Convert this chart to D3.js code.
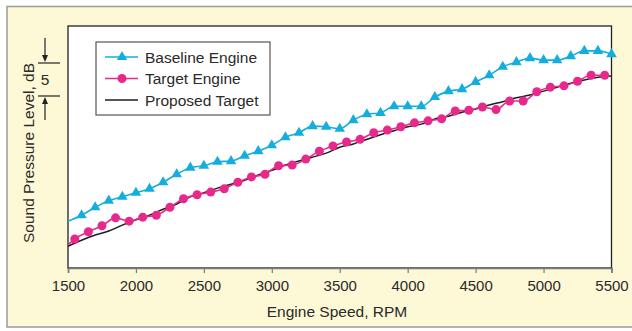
<!DOCTYPE html>
<head>
<meta charset="utf-8">
<style>
    body { margin: 0; background: #fff; }
    text { font-family: "Liberation Sans", Arial, sans-serif; fill: #2a2a2a; }
</style>
</head>
<body>
    <script src="https://d3js.org/d3.v7.min.js"></script>
    <script>

    ///////////////////////////
    ////////// DATA ///////////
    ///////////////////////////

    // relative sound pressure level, dB
    const baselineRpm = d3.range(1500, 5501, 100);
    const baselineDb = [7.1, 8.0, 9.2, 10.2, 10.8, 11.4, 12.0, 13.0, 14.2, 15.2,
        15.5, 16.1, 16.2, 17.0, 17.7, 18.6, 19.8, 20.5, 21.5, 21.4,
        21.1, 22.4, 23.3, 23.5, 24.5, 24.5, 24.5, 25.9, 26.8, 27.1,
        28.2, 29.2, 30.5, 31.2, 31.8, 31.5, 31.5, 32.1, 32.9, 32.9, 32.4];

    const targetRpm = [1500].concat(d3.range(1550, 5451, 100));
    const targetDb = [3.5, 4.4, 5.5, 6.4, 7.6, 7.1, 7.7, 8.0, 9.2, 10.5, 11.1,
        11.5, 12.0, 13.0, 13.8, 14.2, 15.5, 15.6, 16.5, 17.7, 18.5,
        19.1, 19.5, 20.5, 20.9, 21.4, 22.0, 22.3, 22.6, 23.8, 23.9,
        24.4, 24.0, 25.3, 25.3, 26.7, 27.4, 27.6, 28.3, 29.2, 29.2];

    const proposedRpm = d3.range(1500, 5501, 100);
    const proposedDb = [3.3, 4.2, 5.0, 5.6, 6.5, 7.3, 8.0, 8.9, 9.7, 10.8,
        11.4, 12.1, 12.7, 13.3, 14.1, 14.8, 15.6, 16.2, 16.8, 17.4,
        18.3, 18.8, 19.5, 20.2, 20.8, 21.4, 21.8, 22.6, 23.0, 23.6,
        24.1, 24.7, 25.2, 25.8, 26.2, 26.8, 27.4, 28.0, 28.5, 28.9, 29.1];

    const xTicks = [1500, 2000, 2500, 3000, 3500, 4000, 4500, 5000, 5500];
    const seriesNames = ['Baseline Engine', 'Target Engine', 'Proposed Target'];
    const scaleBarDb = 5;

    ///////////////////////////
    ////////// SETUP //////////
    ///////////////////////////

    const W = 632, H = 331;
    const plot = { left: 68, right: 611.5, top: 26, bottom: 268 };
    const cyan = '#14aede', pink = '#e8298c', dark = '#1e1e1e';

    let svg = d3.select('body').append('svg')
        .attr('width', W)
        .attr('height', H);

    // cream panel
    svg.append('rect')
        .attr('x', 7).attr('y', 6.5)
        .attr('width', W).attr('height', 320.5)
        .attr('fill', '#fdf8d6')
        .attr('stroke', '#9a9a9a')
        .attr('stroke-width', 1.5);

    const x = d3.scaleLinear().domain([1500, 5500]).range([plot.left, plot.right]);
    const y = d3.scaleLinear().domain([0, 36.67]).range([plot.bottom, plot.top]);

    svg.append('rect')
        .attr('x', plot.left).attr('y', plot.top)
        .attr('width', plot.right - plot.left).attr('height', plot.bottom - plot.top)
        .attr('fill', '#fff')
        .attr('stroke', '#222')
        .attr('stroke-width', 1.3);

    // x axis
    const xAxis = svg.append('g')
        .attr('transform', 'translate(0,' + plot.bottom + ')')
        .call(d3.axisBottom(x).tickValues(xTicks).tickFormat(d3.format('d'))
            .tickSize(5).tickPadding(7));
    xAxis.select('.domain').attr('stroke', '#7a7a7a').attr('stroke-width', 1.6);
    xAxis.selectAll('.tick line').attr('stroke', '#7a7a7a').attr('stroke-width', 1.2);
    xAxis.selectAll('.tick text')
        .attr('font-size', '15px')
        .attr('font-family', '"Liberation Sans", Arial, sans-serif')
        .attr('fill', '#2a2a2a');

    svg.append('text')
        .attr('x', 337).attr('y', 317)
        .attr('text-anchor', 'middle')
        .attr('font-size', '15.5px')
        .text('Engine Speed, RPM');

    svg.append('text')
        .attr('transform', 'translate(34,153) rotate(-90)')
        .attr('text-anchor', 'middle')
        .attr('font-size', '15.5px')
        .text('Sound Pressure Level, dB');

    // 5 dB scale bar
    const barX = 45, barTop = 63;
    const barBottom = barTop + (y(0) - y(scaleBarDb));
    const bar = svg.append('g').attr('stroke', '#222').attr('stroke-width', 1.2);
    bar.append('line').attr('x1', 38).attr('x2', 60).attr('y1', barTop).attr('y2', barTop);
    bar.append('line').attr('x1', 38).attr('x2', 60).attr('y1', barBottom).attr('y2', barBottom);
    bar.append('line').attr('x1', barX).attr('x2', barX).attr('y1', 38).attr('y2', barTop - 6);
    bar.append('line').attr('x1', barX).attr('x2', barX).attr('y1', barBottom + 6).attr('y2', 120);
    svg.append('path')
        .attr('d', 'M' + (barX - 3) + ',' + (barTop - 8) + 'L' + (barX + 3) + ',' + (barTop - 8) +
            'L' + barX + ',' + (barTop - 1) + 'Z')
        .attr('fill', '#222');
    svg.append('path')
        .attr('d', 'M' + (barX - 3) + ',' + (barBottom + 8) + 'L' + (barX + 3) + ',' + (barBottom + 8) +
            'L' + barX + ',' + (barBottom + 1) + 'Z')
        .attr('fill', '#222');
    svg.append('text')
        .attr('x', barX).attr('y', (barTop + barBottom) / 2 + 5.5)
        .attr('text-anchor', 'middle')
        .attr('font-size', '15.5px')
        .text(scaleBarDb);

    //////////////////////////
    ////////// DRAW //////////
    //////////////////////////

    const line = d3.line()
        .curve(d3.curveMonotoneX)
        .x(d => x(d[0]))
        .y(d => y(d[1]));

    const baseline = d3.zip(baselineRpm, baselineDb);
    const target = d3.zip(targetRpm, targetDb);
    const proposed = d3.zip(proposedRpm, proposedDb);

    svg.append('path')
        .attr('d', line(proposed))
        .attr('fill', 'none').attr('stroke', dark).attr('stroke-width', 1.5);

    svg.append('path')
        .attr('d', line(target))
        .attr('fill', 'none').attr('stroke', pink).attr('stroke-width', 1.6);

    svg.append('path')
        .attr('d', line(baseline))
        .attr('fill', 'none').attr('stroke', cyan).attr('stroke-width', 1.6);

    const tri = d3.symbol().type(d3.symbolTriangle).size(48);

    svg.selectAll('.tri')
        .data(baseline.filter(d => d[0] > 1500))
        .join('path')
        .attr('class', 'tri')
        .attr('d', tri)
        .attr('transform', d => 'translate(' + x(d[0]) + ',' + y(d[1]) + ')')
        .attr('fill', cyan);

    svg.selectAll('.dot')
        .data(target.filter(d => d[0] > 1500))
        .join('circle')
        .attr('class', 'dot')
        .attr('cx', d => x(d[0]))
        .attr('cy', d => y(d[1]))
        .attr('r', 4.5)
        .attr('fill', pink);

    ////////////////////////////
    ////////// LEGEND //////////
    ////////////////////////////

    const legend = svg.append('g').attr('transform', 'translate(96,42)');
    legend.append('rect')
        .attr('width', 174).attr('height', 73)
        .attr('fill', '#fff')
        .attr('stroke', '#555')
        .attr('stroke-width', 1.2);

    const colors = [cyan, pink, dark];
    const rows = legend.selectAll('.row')
        .data(seriesNames)
        .join('g')
        .attr('class', 'row')
        .attr('transform', (d, i) => 'translate(0,' + (15 + i * 21.5) + ')');

    rows.append('line')
        .attr('x1', 9).attr('x2', 42)
        .attr('stroke', (d, i) => colors[i])
        .attr('stroke-width', (d, i) => i === 2 ? 1.5 : 1.6);

    rows.filter((d, i) => i === 0).append('path')
        .attr('d', tri)
        .attr('transform', 'translate(26,0)')
        .attr('fill', cyan);

    rows.filter((d, i) => i === 1).append('circle')
        .attr('cx', 26).attr('r', 4.5)
        .attr('fill', pink);

    rows.append('text')
        .attr('x', 49).attr('y', 5.5)
        .attr('font-size', '15.5px')
        .text(d => d);

    </script>
</body>
